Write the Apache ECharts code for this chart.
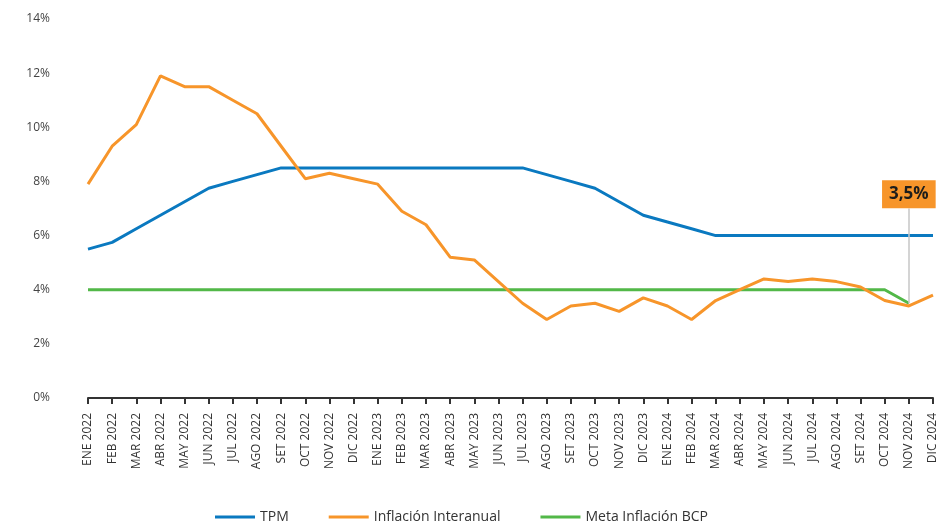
<!DOCTYPE html>
<html>
<head>
<meta charset="utf-8">
<script src="https://cdn.jsdelivr.net/npm/echarts@6/dist/echarts.min.js"></script>
<style>
  html, body { margin: 0; padding: 0; background: #fff; }
  #chart { width: 939px; height: 523px; }
</style>
</head>
<body>
<div id="chart"></div>
<script>
// Monthly categories, Jan 2022 – Dec 2024
const months = [
  'ENE 2022','FEB 2022','MAR 2022','ABR 2022','MAY 2022','JUN 2022','JUL 2022','AGO 2022','SET 2022','OCT 2022','NOV 2022','DIC 2022',
  'ENE 2023','FEB 2023','MAR 2023','ABR 2023','MAY 2023','JUN 2023','JUL 2023','AGO 2023','SET 2023','OCT 2023','NOV 2023','DIC 2023',
  'ENE 2024','FEB 2024','MAR 2024','ABR 2024','MAY 2024','JUN 2024','JUL 2024','AGO 2024','SET 2024','OCT 2024','NOV 2024','DIC 2024'
];

// Policy rate (%)
const tpm = [
  5.5, 5.75, 6.25, 6.75, 7.25, 7.75, 8.0, 8.25, 8.5, 8.5, 8.5, 8.5,
  8.5, 8.5, 8.5, 8.5, 8.5, 8.5, 8.5, 8.25, 8.0, 7.75, 7.25, 6.75,
  6.5, 6.25, 6.0, 6.0, 6.0, 6.0, 6.0, 6.0, 6.0, 6.0, 6.0, 6.0
];

// Year-on-year inflation (%)
const inflacion = [
  7.9, 9.3, 10.1, 11.9, 11.5, 11.5, 11.0, 10.5, 9.3, 8.1, 8.3, 8.1,
  7.9, 6.9, 6.4, 5.2, 5.1, 4.3, 3.5, 2.9, 3.4, 3.5, 3.2, 3.7,
  3.4, 2.9, 3.6, 4.0, 4.4, 4.3, 4.4, 4.3, 4.1, 3.6, 3.4, 3.8
];

// Inflation target (%)
const meta = [
  4, 4, 4, 4, 4, 4, 4, 4, 4, 4, 4, 4,
  4, 4, 4, 4, 4, 4, 4, 4, 4, 4, 4, 4,
  4, 4, 4, 4, 4, 4, 4, 4, 4, 4, 3.5, null
];

// Month whose target value is called out
const highlightMonth = 'NOV 2024';
const highlightTop = 7.0; // upper end of the leader line, in axis units

const yTicks = { min: 0, max: 14, interval: 2 };

const FONT = '"Open Sans", "Noto Sans", sans-serif';
const BLUE = '#0a79c0';
const ORANGE = '#f7952a';
const GREEN = '#52b848';

const hIdx = months.indexOf(highlightMonth);
const fmtPct = v => v.toFixed(1).replace('.', ',') + '%';

const chart = echarts.init(document.getElementById('chart'), null, { renderer: 'canvas' });
chart.setOption({
  animation: false,
  backgroundColor: '#ffffff',
  textStyle: { fontFamily: FONT },
  grid: { left: 88, right: 3, top: 19, bottom: 125, containLabel: false },
  legend: {
    left: 210,
    top: 505,
    itemWidth: 40,
    itemHeight: 3,
    itemGap: 40,
    icon: 'rect',
    textStyle: { fontFamily: FONT, fontSize: 14, color: '#333333' },
    data: ['TPM', 'Inflación Interanual', 'Meta Inflación BCP']
  },
  xAxis: {
    type: 'category',
    data: months,
    boundaryGap: false,
    axisLine: { show: true, lineStyle: { color: '#333333', width: 2 } },
    axisTick: { show: true, alignWithLabel: true, length: 6, lineStyle: { color: '#333333', width: 2 } },
    axisLabel: {
      interval: 0,
      rotate: 90,
      margin: 15,
      fontFamily: FONT,
      fontSize: 12,
      color: '#333333'
    },
    splitLine: { show: false }
  },
  yAxis: {
    type: 'value',
    min: yTicks.min,
    max: yTicks.max,
    interval: yTicks.interval,
    axisLine: { show: false },
    axisTick: { show: false },
    splitLine: { show: false },
    axisLabel: {
      margin: 38,
      fontFamily: FONT,
      fontSize: 12,
      color: '#444444',
      formatter: v => v + '%'
    }
  },
  series: [
    {
      name: 'Meta Inflación BCP',
      type: 'line',
      data: meta,
      symbol: 'none',
      z: 2,
      lineStyle: { color: GREEN, width: 3 },
      itemStyle: { color: GREEN },
      markLine: {
        silent: true,
        symbol: 'none',
        label: { show: false },
        lineStyle: { color: '#c6c6c6', width: 1.5, type: 'solid' },
        data: [[
          { coord: [highlightMonth, meta[hIdx]] },
          { coord: [highlightMonth, highlightTop] }
        ]]
      },
      markPoint: {
        silent: true,
        symbol: 'circle',
        symbolSize: 0,
        data: [{
          coord: [highlightMonth, meta[hIdx]],
          value: meta[hIdx]
        }],
        label: {
          show: true,
          position: 'top',
          distance: 95,
          formatter: p => fmtPct(p.value),
          backgroundColor: ORANGE,
          color: '#1d1d1b',
          fontFamily: FONT,
          fontWeight: 'bold',
          fontSize: 17,
          padding: [4, 7, 4, 7],
          lineHeight: 20
        }
      }
    },
    {
      name: 'TPM',
      type: 'line',
      data: tpm,
      symbol: 'none',
      z: 3,
      lineStyle: { color: BLUE, width: 3 },
      itemStyle: { color: BLUE }
    },
    {
      name: 'Inflación Interanual',
      type: 'line',
      data: inflacion,
      symbol: 'none',
      z: 4,
      lineStyle: { color: ORANGE, width: 3 },
      itemStyle: { color: ORANGE }
    }
  ]
});
</script>
</body>
</html>
